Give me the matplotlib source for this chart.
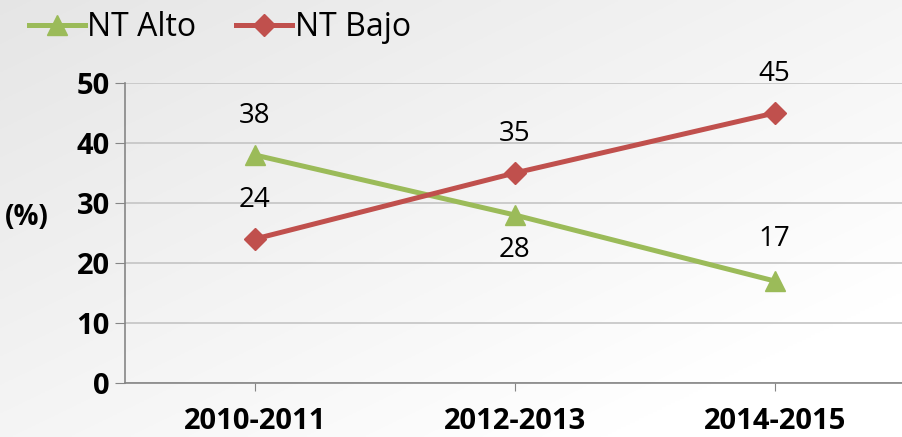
import numpy as np
import matplotlib.pyplot as plt

periods = ["2010-2011", "2012-2013", "2014-2015"]
nt_alto = [38, 28, 17]
nt_bajo = [24, 35, 45]
# label offsets in points (above / below marker)
alto_off = [28, -25, 30]
bajo_off = [28, 28, 28]

plt.rcParams['font.family'] = ['Open Sans', 'DejaVu Sans']

fig = plt.figure(figsize=(9.02, 4.37), dpi=100)

# background gradient: light gray top-left to white bottom-right
bg = fig.add_axes([0, 0, 1, 1], zorder=-10)
yy, xx = np.mgrid[0:1:200j, 0:1:400j]
g = 0.90 + 0.10 * np.clip((xx * 0.6 + yy * 0.6), 0, 1)
bg.imshow(np.dstack([g, g, g]), aspect='auto', extent=[0, 1, 0, 1], origin='upper')
bg.axis('off')

ax = fig.add_axes([125 / 902, 1 - 383 / 437, 777 / 902, 300 / 437])
ax.patch.set_alpha(0)
x = np.arange(len(periods))

ax.plot(x, nt_alto, color='#9BBB59', lw=3.6, marker='^', ms=14, label='NT Alto')
ax.plot(x, nt_bajo, color='#C0504D', lw=3.6, marker='D', ms=11, label='NT Bajo')

for i in x:
    ax.annotate(str(nt_alto[i]), (i, nt_alto[i]), xytext=(0, alto_off[i]),
                textcoords='offset points', ha='center', va='center', fontsize=20)
    ax.annotate(str(nt_bajo[i]), (i, nt_bajo[i]), xytext=(0, bajo_off[i]),
                textcoords='offset points', ha='center', va='center', fontsize=20)

ax.set_xlim(-0.5, 2.49)
ax.set_ylim(0, 50)
ax.set_yticks(range(0, 51, 10))
ax.set_xticks(x)
ax.set_xticklabels(periods, fontsize=21, fontweight='bold')
for lab in ax.get_yticklabels():
    lab.set_fontsize(21)
    lab.set_fontweight('bold')
ax.tick_params(axis='y', length=7, color='#868686', pad=4)
ax.tick_params(axis='x', length=6, color='#868686', pad=11)
ax.grid(axis='y', color='#c4c4c4', lw=1.2)
ax.set_axisbelow(True)
for s in ['top', 'right']:
    ax.spines[s].set_visible(False)
for s in ['left', 'bottom']:
    ax.spines[s].set_color('#868686')
    ax.spines[s].set_linewidth(1.2)

fig.text(27 / 902, 1 - 218 / 437, "(%)", fontsize=20, fontweight='bold',
         ha='center', va='center')

fig.legend(loc='upper left', bbox_to_anchor=(0.0, 1.04), ncol=2, frameon=False,
           fontsize=23, handlelength=1.75, handletextpad=0.08, columnspacing=1.25)

fig.savefig('out.png', dpi=100)
